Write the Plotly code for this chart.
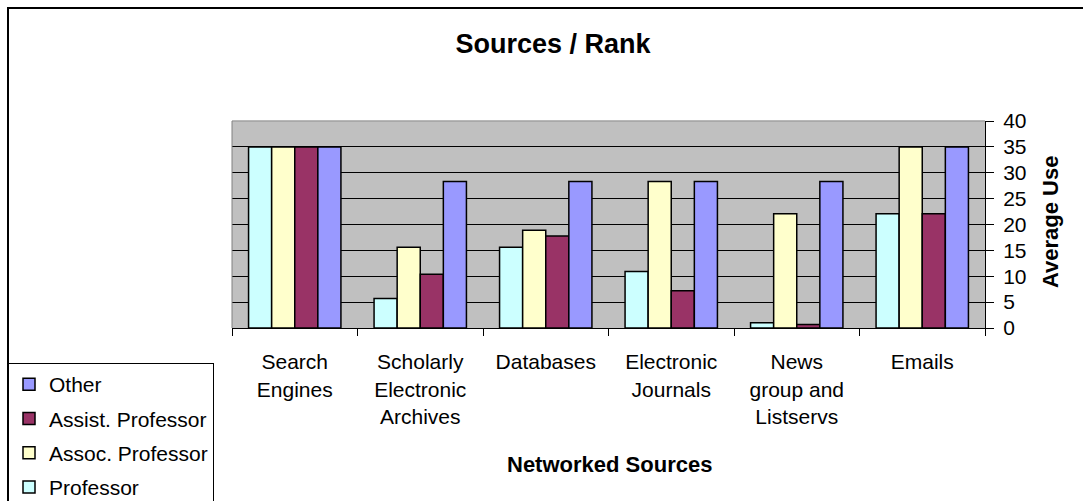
import plotly.graph_objects as go

categories = ["Search<br>Engines", "Scholarly<br>Electronic<br>Archives", "Databases",
              "Electronic<br>Journals", "News<br>group and<br>Listservs", "Emails"]
series_names = ["Professor", "Assoc. Professor", "Assist. Professor", "Other"]
professor = [35.0, 5.7, 15.6, 10.9, 1.0, 22.1]
assoc_professor = [35.0, 15.6, 18.9, 28.3, 22.1, 35.0]
assist_professor = [35.0, 10.4, 17.8, 7.2, 0.7, 22.1]
other = [35.0, 28.3, 28.3, 28.3, 28.3, 35.0]
y_ticks = [0, 5, 10, 15, 20, 25, 30, 35, 40]

colors = ["#CCFFFF", "#FFFFCC", "#993366", "#9999FF"]
values = [professor, assoc_professor, assist_professor, other]

W, H = 1083, 501
L, R, T, B = 232, 98, 121, 173
pw, ph = W - L - R, H - T - B

def px(x):
    return (x - L) / pw

def py(y):
    return (H - B - y) / ph

FONT = "Arial, Liberation Sans, sans-serif"

fig = go.Figure()
n = len(series_names)
for i, (name, vals, col) in enumerate(zip(series_names, values, colors)):
    fig.add_trace(go.Bar(
        x=categories, y=vals, name=name, legendgroup=name,
        legendrank=1000 + (n - i),
        marker=dict(color=col, line=dict(color="black", width=1.5)),
    ))

fig.update_layout(
    width=W, height=H,
    margin=dict(l=L, r=R, t=T, b=B, autoexpand=False),
    paper_bgcolor="white", plot_bgcolor="#C0C0C0",
    barmode="group", bargap=0.264, bargroupgap=0,
    font=dict(family=FONT, color="black", size=21),
    title=dict(text="<b>Sources / Rank</b>", x=553 / W, xanchor="center",
               y=1 - 44 / H, yanchor="middle", xref="container", yref="container",
               font=dict(size=27, family=FONT, color="black")),
    showlegend=True,
    legend=dict(x=px(8), y=py(363), xanchor="left", yanchor="top",
                traceorder="grouped", tracegroupgap=4,
                bgcolor="white", bordercolor="black", borderwidth=1,
                font=dict(size=21, family=FONT)),
    xaxis=dict(showline=True, linecolor="black", linewidth=1,
               ticks="outside", tickson="boundaries", ticklen=7, tickcolor="black",
               tickfont=dict(size=21), ticklabelstandoff=15,
               showgrid=False),
    yaxis=dict(side="right", range=[0, 40], tickvals=y_ticks,
               showline=True, linecolor="black", linewidth=1,
               ticks="outside", ticklen=8, tickcolor="black",
               tickfont=dict(size=21), ticklabelstandoff=5,
               showgrid=True, gridcolor="black", gridwidth=1,
               zeroline=False),
    shapes=[
        dict(type="line", xref="paper", yref="paper", x0=0, x1=1, y0=1, y1=1,
             line=dict(color="#A0A0A0", width=1.5), layer="above"),
        dict(type="line", xref="paper", yref="paper", x0=0, x1=0, y0=0, y1=1,
             line=dict(color="#808080", width=1), layer="above"),
        dict(type="rect", xref="paper", yref="paper",
             x0=px(8), x1=px(1100), y0=py(520), y1=py(8),
             line=dict(color="black", width=2), layer="above"),
    ],
    annotations=[
        dict(text="<b>Networked Sources</b>", xref="paper", yref="paper",
             x=px(609), y=py(464), xanchor="center", yanchor="middle",
             showarrow=False, font=dict(size=22, family=FONT)),
        dict(text="<b>Average Use</b>", xref="paper", yref="paper",
             x=px(1050), y=py(222), xanchor="center", yanchor="middle",
             textangle=-90, showarrow=False, font=dict(size=22, family=FONT)),
    ],
)

fig.write_html("out.html")
